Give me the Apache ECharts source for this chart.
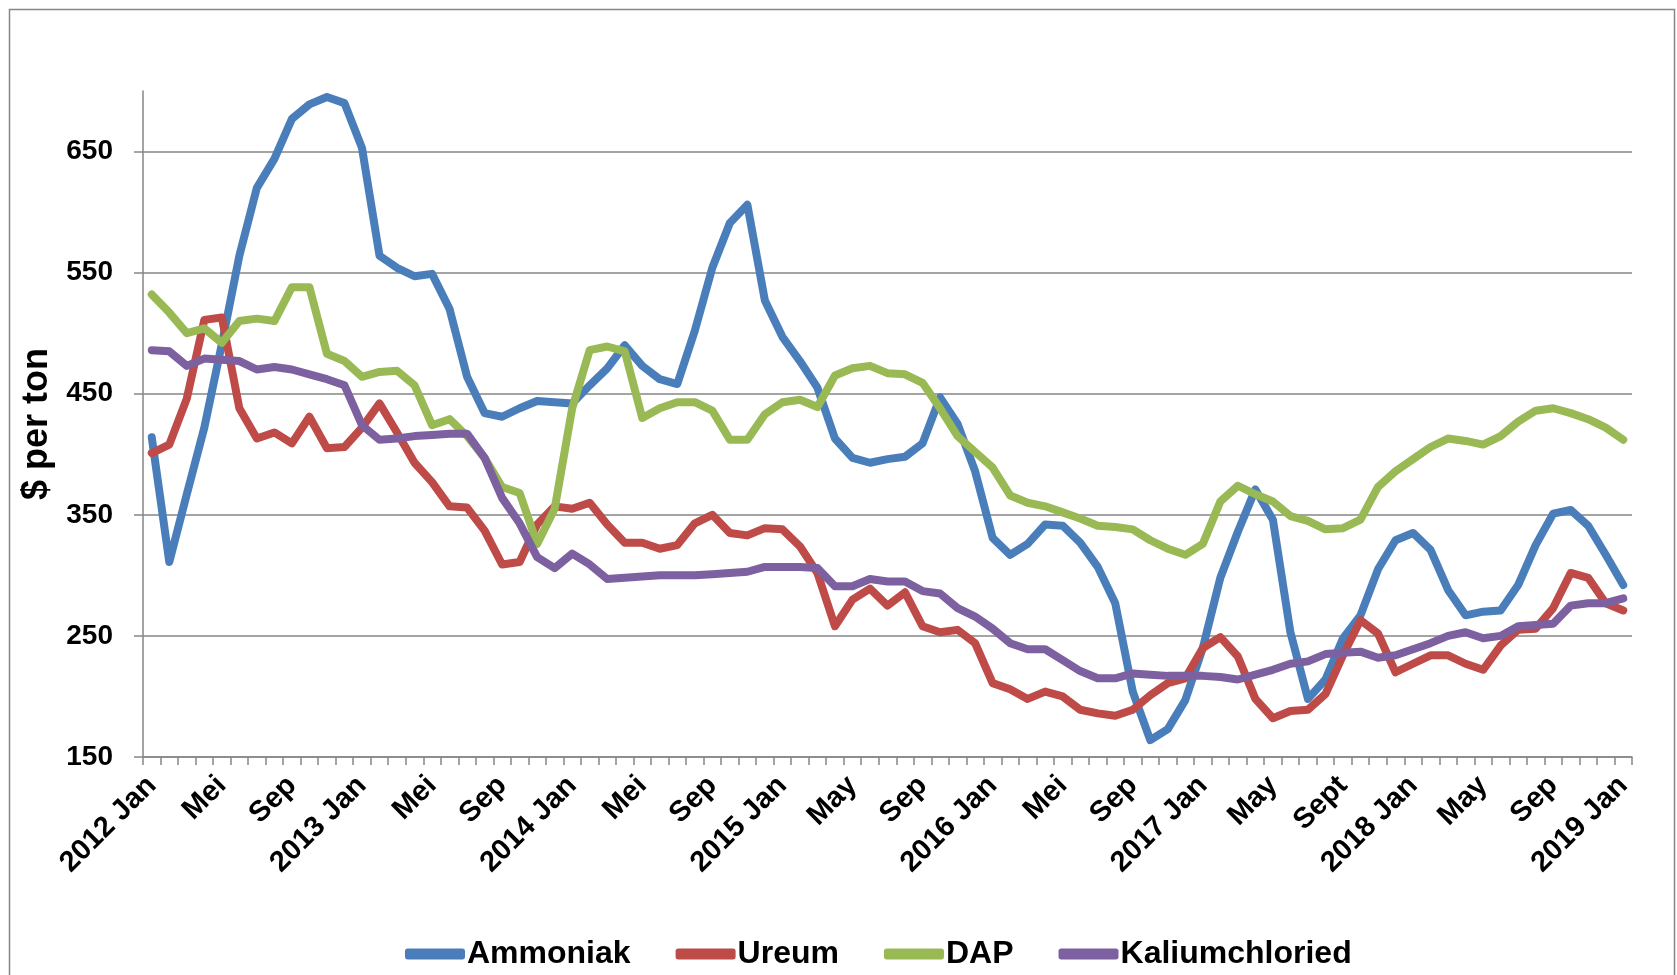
<!DOCTYPE html>
<html>
<head>
<meta charset="utf-8">
<title>Kunstmestprijzen</title>
<script src="https://cdn.jsdelivr.net/npm/echarts@6/dist/echarts.min.js"></script>
<style>
  html, body { margin: 0; padding: 0; background: #fff; }
  #chart { width: 1677px; height: 975px; }
</style>
</head>
<body>
<div id="chart"></div>
<script>
// maanden 2012 Jan t/m 2019 Jan
var tickLabels = ['2012 Jan', 'Mei', 'Sep', '2013 Jan', 'Mei', 'Sep', '2014 Jan', 'Mei', 'Sep',
  '2015 Jan', 'May', 'Sep', '2016 Jan', 'Mei', 'Sep', '2017 Jan', 'May', 'Sept',
  '2018 Jan', 'May', 'Sep', '2019 Jan'];

var ammoniak = [414, 311, 367, 422, 491, 564, 620, 644, 677, 689, 695, 690,
  653, 564, 554, 547, 549, 520, 464, 434, 431, 438, 444, 443,
  442, 457, 471, 490, 473, 462, 458, 502, 554, 591, 606, 527,
  497, 477, 455, 413, 397, 393, 396, 398, 409, 447, 425, 386,
  331, 317, 326, 342, 341, 327, 307, 277, 204, 164, 173, 197,
  240, 298, 336, 371, 346, 253, 198, 214, 248, 267, 305, 329,
  335, 321, 288, 267, 270, 271, 292, 325, 351, 354, 341, 317,
  292];

var ureum = [401, 408, 446, 511, 513, 438, 413, 418, 409, 431, 405, 406,
  422, 442, 418, 393, 377, 357, 356, 337, 309, 311, 342, 357,
  355, 360, 342, 327, 327, 322, 325, 343, 350, 335, 333, 339,
  338, 324, 302, 258, 280, 289, 275, 286, 258, 253, 255, 244,
  211, 206, 198, 204, 200, 189, 186, 184, 189, 201, 211, 215,
  240, 249, 233, 198, 182, 188, 189, 202, 234, 263, 252, 220,
  227, 234, 234, 227, 222, 242, 255, 256, 273, 302, 298, 277,
  271];

var dap = [532, 517, 500, 504, 492, 510, 512, 510, 538, 538, 483, 477,
  464, 468, 469, 457, 424, 429, 415, 397, 373, 368, 326, 355,
  438, 486, 489, 485, 430, 438, 443, 443, 436, 412, 412, 433,
  443, 445, 439, 465, 471, 473, 467, 466, 459, 438, 415, 402,
  389, 366, 360, 357, 352, 347, 341, 340, 338, 329, 322, 317,
  326, 361, 374, 367, 361, 349, 345, 338, 339, 346, 373, 386,
  396, 406, 413, 411, 408, 415, 427, 436, 438, 434, 429, 422,
  412];

var kalium = [486, 485, 473, 479, 478, 477, 470, 472, 470, 466, 462, 457,
  424, 412, 413, 415, 416, 417, 417, 397, 364, 343, 315, 306,
  318, 309, 297, 298, 299, 300, 300, 300, 301, 302, 303, 307,
  307, 307, 306, 291, 291, 297, 295, 295, 287, 285, 273, 266,
  256, 244, 239, 239, 230, 221, 215, 215, 219, 218, 217, 217,
  217, 216, 214, 218, 222, 227, 229, 235, 236, 237, 232, 234,
  239, 244, 250, 253, 248, 250, 258, 259, 260, 275, 277, 277,
  281];

var months = [];
for (var y = 2012; y <= 2019; y++) {
  for (var m = 1; m <= 12; m++) {
    if (y === 2019 && m > 1) break;
    months.push(y + '-' + (m < 10 ? '0' + m : m));
  }
}

var grijs = '#868686';
var font = 'Liberation Sans, Arial, sans-serif';

var myChart = echarts.init(document.getElementById('chart'));

function lijn(naam, data, kleur) {
  return {
    name: naam,
    type: 'line',
    data: data,
    showSymbol: false,
    symbol: 'none',
    smooth: false,
    lineStyle: { width: 8, color: kleur, cap: 'round', join: 'round' },
    itemStyle: { color: kleur }
  };
}

var option = {
  animation: false,
  backgroundColor: '#fff',
  graphic: [{
    type: 'rect',
    left: 7, top: 7,
    shape: { width: 1665, height: 1000 },
    style: { fill: 'none', stroke: grijs, lineWidth: 1.5 },
    silent: true
  }],
  grid: { left: 143, right: 45, top: 91, bottom: 218 },
  legend: {
    left: 400,
    top: 933,
    icon: 'roundRect',
    itemWidth: 60,
    itemHeight: 11,
    itemGap: 45,
    textStyle: { fontFamily: font, fontWeight: 'bold', fontSize: 32, color: '#000', padding: [0, 0, 0, -3] },
    data: ['Ammoniak', 'Ureum', 'DAP', 'Kaliumchloried']
  },
  xAxis: {
    type: 'category',
    data: months,
    boundaryGap: true,
    axisLine: { lineStyle: { color: grijs, width: 1.5 } },
    axisTick: { show: true, interval: 0, length: 8, lineStyle: { color: grijs, width: 1.5 } },
    axisLabel: {
      interval: 3,
      rotate: 45,
      margin: 24,
      fontFamily: font,
      fontWeight: 'bold',
      fontSize: 29,
      color: '#000',
      formatter: function (val, idx) { return idx % 4 === 0 ? tickLabels[idx / 4] : ''; }
    },
    splitLine: { show: false }
  },
  yAxis: {
    type: 'value',
    min: 150,
    max: 700,
    interval: 100,
    name: '$ per ton',
    nameLocation: 'middle',
    nameRotate: 90,
    nameGap: 86,
    nameTextStyle: { fontFamily: font, fontWeight: 'bold', fontSize: 36, color: '#000' },
    axisLine: { show: true, lineStyle: { color: grijs, width: 1.5 } },
    axisTick: { show: true, length: 9, lineStyle: { color: grijs, width: 1.5 } },
    axisLabel: {
      margin: 30,
      showMaxLabel: false,
      fontFamily: font,
      fontWeight: 'bold',
      fontSize: 28,
      color: '#000'
    },
    splitLine: { show: true, showMaxLine: false, lineStyle: { color: grijs, width: 1.5 } }
  },
  series: [
    lijn('Ammoniak', ammoniak, '#4A7EBB'),
    lijn('Ureum', ureum, '#BE4B48'),
    lijn('DAP', dap, '#98B954'),
    lijn('Kaliumchloried', kalium, '#7D60A0')
  ]
};

myChart.setOption(option);
</script>
</body>
</html>
